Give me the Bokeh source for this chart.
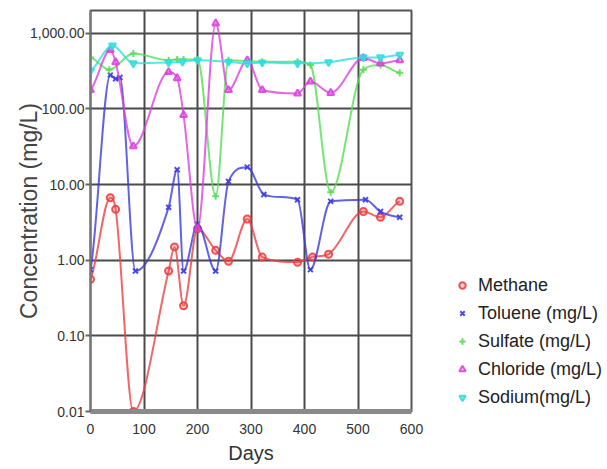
import math
from bokeh.plotting import figure
from bokeh.layouts import row
from bokeh.models import Range1d, FixedTicker, Legend, LegendItem
from bokeh.embed import file_html
from bokeh.resources import INLINE

# ---------------- data ----------------
methane_days = [0, 37, 47, 80, 146, 157, 174, 200, 234, 258, 293, 321, 387, 415, 445, 510, 542, 578]
methane_vals = [0.56, 6.7, 4.7, 0.01, 0.72, 1.5, 0.25, 2.6, 1.35, 0.97, 3.5, 1.1, 0.94, 1.1, 1.2, 4.4, 3.7, 6.0]

toluene_days = [0, 37, 47, 55, 84, 146, 162, 174, 200, 234, 258, 293, 324, 387, 411, 449, 514, 542, 578]
toluene_vals = [0.75, 280, 250, 260, 0.72, 5.0, 15.7, 0.72, 3.0, 0.72, 11, 17, 7.4, 6.3, 0.75, 6.0, 6.3, 4.4, 3.7]

sulfate_days = [0, 35, 80, 146, 162, 174, 200, 234, 258, 321, 387, 411, 449, 510, 542, 578]
sulfate_vals = [480, 330, 540, 440, 450, 450, 450, 7.0, 440, 420, 420, 380, 7.9, 330, 380, 300]

chloride_days = [0, 37, 47, 80, 146, 162, 174, 200, 234, 258, 293, 321, 387, 411, 449, 510, 542, 578]
chloride_vals = [178, 600, 415, 32, 307, 255, 83, 2.6, 1350, 178, 440, 178, 160, 230, 163, 470, 400, 440]

sodium_days = [0, 41, 80, 146, 172, 200, 258, 293, 321, 387, 445, 510, 542, 578]
sodium_vals = [320, 690, 400, 410, 420, 440, 420, 400, 410, 400, 415, 480, 480, 520]

series_names = ["Methane", "Toluene (mg/L)", "Sulfate (mg/L)", "Chloride (mg/L)", "Sodium(mg/L)"]

y_tick_values = [0.01, 0.1, 1, 10, 100, 1000]
y_tick_labels = ["0.01", "0.10", "1.00", "10.00", "100.00", "1,000.00"]
x_tick_values = [0, 100, 200, 300, 400, 500, 600]

FONT = "Liberation Sans"
H = 466

p = figure(width=426, height=H, output_backend="svg", toolbar_location=None,
           y_axis_type="log", x_range=Range1d(0, 600), y_range=Range1d(0.01, 2000),
           min_border_left=90, min_border_right=15, min_border_top=10, min_border_bottom=52)
p.background_fill_color = "white"
p.border_fill_color = "white"
p.outline_line_color = "#555555"
p.outline_line_width = 2

# grid
p.xgrid.ticker = FixedTicker(ticks=x_tick_values)
p.ygrid.ticker = FixedTicker(ticks=y_tick_values)
for g in (p.xgrid, p.ygrid):
    g.grid_line_color = "#4a4a4a"
    g.grid_line_width = 2

# axes
p.xaxis.ticker = FixedTicker(ticks=x_tick_values)
p.yaxis.ticker = FixedTicker(ticks=y_tick_values)
p.yaxis.major_label_overrides = {v: l for v, l in zip(y_tick_values, y_tick_labels)}
p.xaxis.axis_line_color = "#8a8a8a"
p.xaxis.axis_line_width = 5
p.yaxis.axis_line_color = "#777777"
p.yaxis.axis_line_width = 2
p.yaxis.major_tick_out = 5
p.yaxis.major_tick_in = 0
p.yaxis.major_tick_line_color = "#666666"
p.yaxis.major_tick_line_width = 2
p.xaxis.major_tick_out = 0
p.xaxis.major_tick_in = 0
for ax in (p.xaxis, p.yaxis):
    ax.minor_tick_line_color = None
    ax.major_label_text_font = FONT
    ax.major_label_text_font_size = "14px"
    ax.major_label_text_color = "#333333"
p.yaxis.major_label_standoff = 1
p.xaxis.major_label_standoff = 12

p.xaxis.axis_label = "Days"
p.xaxis.axis_label_text_font = FONT
p.xaxis.axis_label_text_font_size = "20px"
p.xaxis.axis_label_text_font_style = "normal"
p.xaxis.axis_label_text_color = "#333333"
p.xaxis.axis_label_standoff = 5

p.yaxis.axis_label = "Concentration (mg/L)"
p.yaxis.axis_label_text_font = FONT
p.yaxis.axis_label_text_font_size = "23px"
p.yaxis.axis_label_text_font_style = "normal"
p.yaxis.axis_label_text_color = "#444444"
p.yaxis.axis_label_standoff = -15


def smooth(xs, ys):
    """Monotone cubic Hermite in (x, log10 y) space, returned as Bezier control points."""
    ly = [math.log10(v) for v in ys]
    n = len(xs)
    sec = [(ly[i + 1] - ly[i]) / (xs[i + 1] - xs[i]) for i in range(n - 1)]
    slopes = []
    for i in range(n):
        if i == 0:
            m = sec[0] * 0.5
        elif i == n - 1:
            m = sec[-1] * 0.5
        else:
            a, b = sec[i - 1], sec[i]
            if a * b <= 0:
                m = 0.0
            else:
                m = (a + b) / 2
                lim = 3 * min(abs(a), abs(b))
                m = math.copysign(min(abs(m), lim), m)
        slopes.append(m)
    out = dict(x0=[], y0=[], x1=[], y1=[], cx0=[], cy0=[], cx1=[], cy1=[])
    for i in range(n - 1):
        h = (xs[i + 1] - xs[i]) / 3
        out["x0"].append(xs[i]); out["y0"].append(ys[i])
        out["x1"].append(xs[i + 1]); out["y1"].append(ys[i + 1])
        out["cx0"].append(xs[i] + h)
        out["cy0"].append(10 ** (ly[i] + slopes[i] * h))
        out["cx1"].append(xs[i + 1] - h)
        out["cy1"].append(10 ** (ly[i + 1] - slopes[i + 1] * h))
    return out


specs = [
    (methane_days, methane_vals, "#ee4040", "circle", None),
    (toluene_days, toluene_vals, "#3b3be0", "x", None),
    (sulfate_days, sulfate_vals, "#55dd55", "cross", None),
    (chloride_days, chloride_vals, "#dd40dd", "triangle", None),
    (sodium_days, sodium_vals, "#30dede", "inverted_triangle", "#30dede"),
]

# legend panel: a second, axis-less figure to the right of the plot
lg = figure(width=607 - 426, height=H, output_backend="svg", toolbar_location=None,
            x_axis_location=None, y_axis_location=None,
            x_range=Range1d(0, 600), y_range=Range1d(0.01, 2000), y_axis_type="log",
            min_border_left=0, min_border_right=0, min_border_top=0, min_border_bottom=0)
lg.outline_line_color = None
lg.grid.visible = False
lg.background_fill_color = "white"
lg.border_fill_color = "white"

items = []
for (xs, ys, col, mk, fill), name in zip(specs, series_names):
    b = smooth(xs, ys)
    p.bezier(x0=b["x0"], y0=b["y0"], x1=b["x1"], y1=b["y1"],
             cx0=b["cx0"], cy0=b["cy0"], cx1=b["cx1"], cy1=b["cy1"],
             line_color=col, line_width=2, line_alpha=0.8)
    style = dict(marker=mk, line_color=col, line_width=2,
                 fill_color=fill if fill else col, fill_alpha=0.6 if fill else 0.25,
                 line_alpha=0.9)
    p.scatter(xs, ys, size=7, **style)
    r = lg.scatter(xs, ys, size=9, visible=False, **style)
    items.append(LegendItem(label=name, renderers=[r]))

legend = Legend(items=items, location=(28, 0), padding=0, margin=0, spacing=0,
                label_height=28, glyph_height=16, glyph_width=16, label_standoff=8,
                label_text_font=FONT, label_text_font_size="18px",
                label_text_color="#222222", border_line_color=None,
                background_fill_alpha=0)
lg.add_layout(legend, "center")

layout = row(p, lg, spacing=0)
open("out.html", "w").write(file_html(layout, INLINE))
